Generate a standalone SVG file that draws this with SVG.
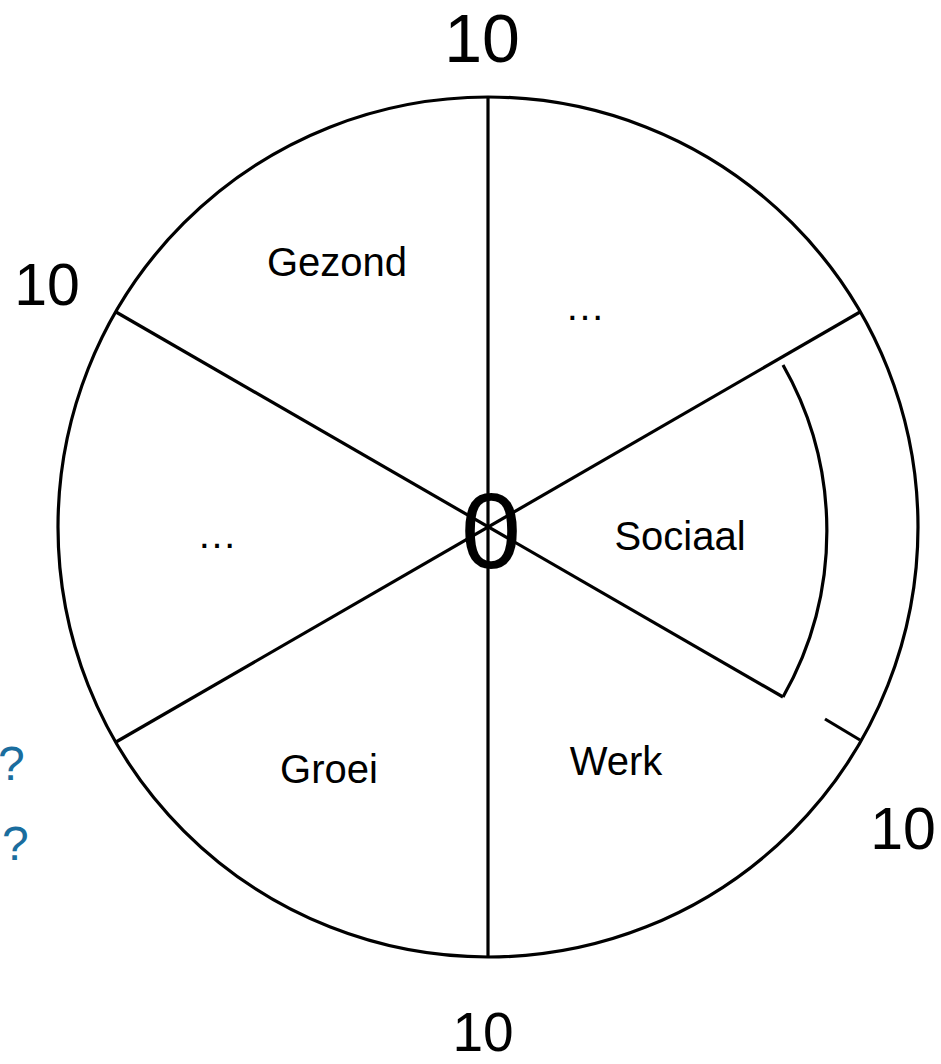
<svg xmlns="http://www.w3.org/2000/svg" width="941" height="1064" viewBox="0 0 941 1064">
<style>
.ln{stroke:#000;stroke-width:3.2;fill:none;stroke-linecap:butt}
.lbl{font-family:"Liberation Sans",Arial,sans-serif;font-size:40px;fill:#000;text-anchor:middle}
.num{font-family:"Liberation Sans",Arial,sans-serif;fill:#000;text-anchor:middle}
.q{font-family:"Liberation Sans",Arial,sans-serif;font-size:48px;fill:#1a6d9e;text-anchor:start}
</style>
<rect width="941" height="1064" fill="#fff"/>
<g id="wheel">
<circle class="ln" cx="488" cy="527" r="430"/>
</g>
<g id="connectors">
<line class="ln" x1="488" y1="97" x2="488" y2="957"/>
<line class="ln" x1="860" y1="312" x2="116" y2="742"/>
<line class="ln" x1="116" y1="312" x2="783" y2="697"/>
<line class="ln" x1="825" y1="719" x2="860" y2="740"/>
<path class="ln" d="M783 365 A336 336 0 0 1 783 697"/>
</g>
<g id="scale-labels">
<text class="num" x="482" y="62" font-size="68">10</text>
<text class="num" x="47" y="305" font-size="59">10</text>
<text class="num" x="903" y="849" font-size="59">10</text>
<text class="num" x="483" y="1051" font-size="55">10</text>
<text class="num" x="491" y="568" font-size="108">0</text>
</g>
<g id="node-gezond"><text class="lbl" x="337" y="276">Gezond</text></g>
<g id="node-dots-top"><text class="lbl" x="585" y="320">…</text></g>
<g id="node-sociaal"><text class="lbl" x="680" y="550">Sociaal</text></g>
<g id="node-dots-left"><text class="lbl" x="217" y="548">…</text></g>
<g id="node-groei"><text class="lbl" x="329" y="783">Groei</text></g>
<g id="node-werk"><text class="lbl" x="616" y="775">Werk</text></g>
<g id="questions">
<text class="q" x="-2" y="780">?</text>
<text class="q" x="2" y="860">?</text>
</g>
</svg>
